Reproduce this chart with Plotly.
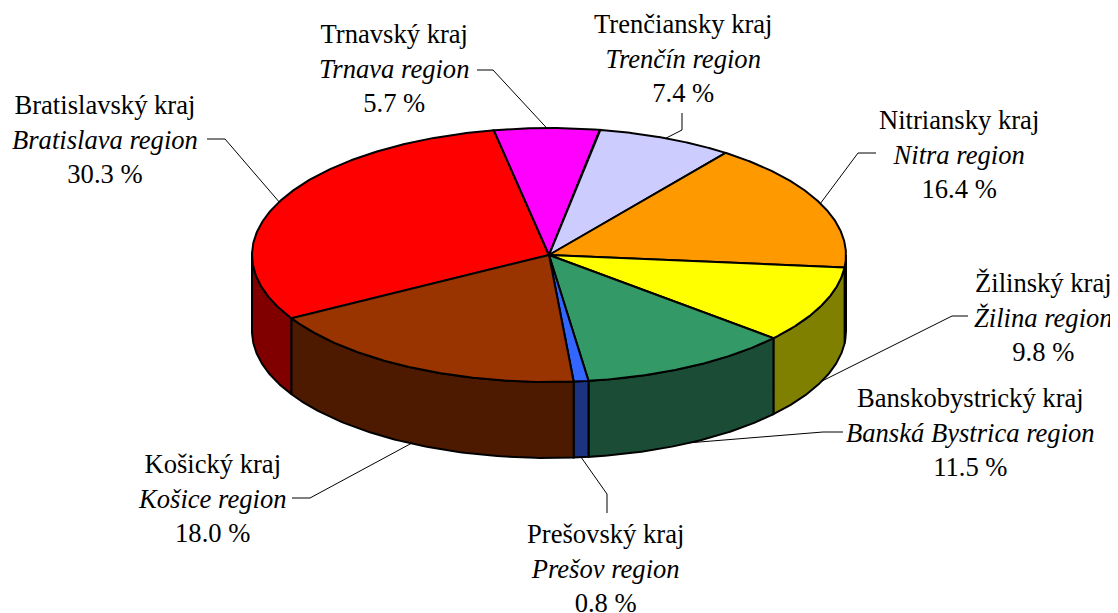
import numpy as np
import plotly.graph_objects as go

# ---------------- data ----------------
regions_sk = ["Bratislavský kraj", "Trnavský kraj", "Trenčiansky kraj", "Nitriansky kraj",
              "Žilinský kraj", "Banskobystrický kraj", "Prešovský kraj", "Košický kraj"]
regions_en = ["Bratislava region", "Trnava region", "Trenčín region", "Nitra region",
              "Žilina region", "Banská Bystrica region", "Prešov region", "Košice region"]
shares = [30.3, 5.7, 7.4, 16.4, 9.8, 11.5, 0.8, 18.0]

# ---------------- style / layout ----------------
top_colors = ["#FF0000", "#FF00FF", "#CCCCFF", "#FF9900", "#FFFF00", "#339966", "#3366FF", "#993300"]
side_colors = ["#800000", "#800080", "#666680", "#804D00", "#808000", "#1B4D36", "#1C3380", "#4D1A00"]
label_pos = [(105, 139), (394, 68), (683, 58), (959, 154), (1043, 317), (970, 432), (605, 568), (212, 498)]
leader_pts = [((207, 139), (225, 139)), ((477, 70), (493, 70)), ((682, 113), (682, 130)),
              ((876, 153), (858, 153)), ((968, 316), (952, 316)), ((843, 432), (823, 432)),
              ((607, 513), (607, 494)), ((292, 498), (310, 498))]

W, H = 1118, 613
OFF = 8  # default page body margin
cx, cy, ra, rb, depth = 549, 255, 297, 127, 76
start_angle = 209.9  # degrees, slices proceed clockwise

def pt(theta, dz=0.0):
    t = np.radians(theta)
    return cx + ra * np.cos(t), cy - rb * np.sin(t) + dz

total = sum(shares)
spans = [s / total * 360 for s in shares]
intervals = []
cur = start_angle
for sp in spans:
    intervals.append((cur - sp, cur))  # (lo, hi)
    cur -= sp

fig = go.Figure()

# side walls (front half: sin < 0)
for i, (lo, hi) in enumerate(intervals):
    for k in (-1, 0, 1):
        f_lo, f_hi = 180 + 360 * k, 360 + 360 * k
        a0, a1 = max(lo, f_lo), min(hi, f_hi)
        if a1 - a0 <= 1e-6:
            continue
        th = np.linspace(a0, a1, 80)
        xt, yt = pt(th)
        xb, yb = pt(th[::-1], depth)
        xs = np.concatenate([xt, xb, xt[:1]])
        ys = np.concatenate([yt, yb, yt[:1]])
        fig.add_trace(go.Scatter(x=xs, y=ys, mode="lines", fill="toself",
                                 fillcolor=side_colors[i], line=dict(color="black", width=2),
                                 hoverinfo="skip", showlegend=False))

# top faces
for i, (lo, hi) in enumerate(intervals):
    th = np.linspace(hi, lo, 200)
    xt, yt = pt(th)
    xs = np.concatenate([[cx], xt, [cx]])
    ys = np.concatenate([[cy], yt, [cy]])
    fig.add_trace(go.Scatter(x=xs, y=ys, mode="lines", fill="toself",
                             fillcolor=top_colors[i], line=dict(color="black", width=2),
                             hoverinfo="skip", showlegend=False))

# leader lines
for i, (lo, hi) in enumerate(intervals):
    mid = (lo + hi) / 2
    dz = depth if np.sin(np.radians(mid)) < 0 else 0
    ax_, ay_ = pt(mid, dz)
    (x0, y0), (x1, y1) = leader_pts[i]
    fig.add_trace(go.Scatter(x=[x0, x1, ax_], y=[y0, y1, ay_], mode="lines",
                             line=dict(color="black", width=1),
                             hoverinfo="skip", showlegend=False))

# labels
for i in range(len(shares)):
    lx, ly = label_pos[i]
    fig.add_annotation(x=lx, y=ly, xref="x", yref="y", showarrow=False,
                       text=f"{regions_sk[i]}<br><i>{regions_en[i]}</i><br>{shares[i]:.1f} %",
                       align="center", xanchor="center", yanchor="middle",
                       font=dict(family="Liberation Serif, 'Times New Roman', Tinos, serif",
                                 size=26.6, color="black"))

fig.update_layout(width=W - OFF, height=H - OFF, margin=dict(l=0, r=0, t=0, b=0),
                  paper_bgcolor="white", plot_bgcolor="white",
                  xaxis=dict(range=[OFF, W], visible=False, fixedrange=True),
                  yaxis=dict(range=[H, OFF], visible=False, fixedrange=True))

fig.write_html("out.html")
